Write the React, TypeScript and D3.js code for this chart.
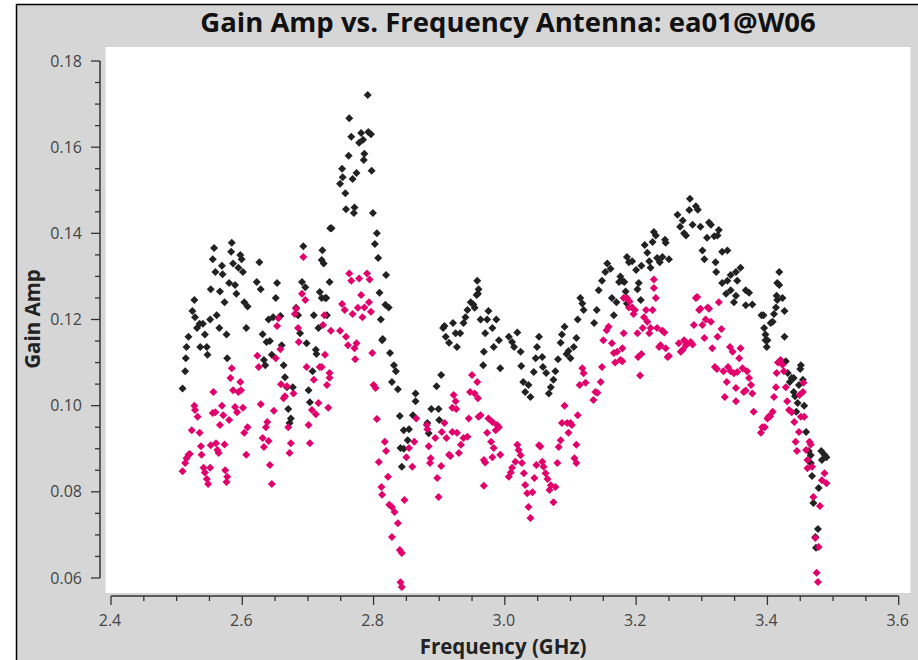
import React from 'react';
import * as d3 from 'd3';

const TITLE = 'Gain Amp vs. Frequency Antenna: ea01@W06';
const X_LABEL = 'Frequency (GHz)';
const Y_LABEL = 'Gain Amp';

const xTickValues = [2.4, 2.6, 2.8, 3.0, 3.2, 3.4, 3.6];
const xTickLabels = ['2.4', '2.6', '2.8', '3.0', '3.2', '3.4', '3.6'];
const yTickValues = [0.06, 0.08, 0.1, 0.12, 0.14, 0.16, 0.18];
const yTickLabels = ['0.06', '0.08', '0.10', '0.12', '0.14', '0.16', '0.18'];

// [frequency GHz, gain amplitude] — correlation 1 (black)
const blackSeries: [number, number][] = [
  [2.509, 0.104], [2.513, 0.108], [2.514, 0.111], [2.515, 0.1136], [2.518, 0.116], [2.524, 0.122],
  [2.527, 0.1245], [2.528, 0.1205], [2.531, 0.118], [2.535, 0.119], [2.536, 0.1136], [2.540, 0.119],
  [2.543, 0.1165], [2.546, 0.1136], [2.547, 0.1118], [2.551, 0.120], [2.552, 0.127], [2.555, 0.134],
  [2.557, 0.1366], [2.559, 0.131], [2.561, 0.121], [2.565, 0.118], [2.566, 0.1265], [2.569, 0.1325],
  [2.570, 0.1305], [2.573, 0.124], [2.576, 0.1165], [2.577, 0.111], [2.580, 0.1285], [2.583, 0.1357],
  [2.584, 0.1378], [2.586, 0.133], [2.589, 0.128], [2.591, 0.126], [2.594, 0.132], [2.597, 0.135],
  [2.599, 0.134], [2.601, 0.131], [2.603, 0.124], [2.606, 0.118], [2.608, 0.123], [2.622, 0.1287],
  [2.626, 0.1333], [2.628, 0.127], [2.631, 0.1166], [2.633, 0.1106], [2.635, 0.1094], [2.637, 0.1148],
  [2.640, 0.120], [2.642, 0.115], [2.645, 0.1118], [2.647, 0.1205], [2.651, 0.125], [2.653, 0.1285],
  [2.658, 0.1208], [2.660, 0.114], [2.663, 0.1094], [2.665, 0.1066], [2.668, 0.1043], [2.670, 0.0992],
  [2.672, 0.096], [2.674, 0.097], [2.677, 0.1043], [2.682, 0.1227], [2.685, 0.121], [2.688, 0.1168],
  [2.691, 0.1287], [2.693, 0.137], [2.696, 0.1275], [2.698, 0.1145], [2.701, 0.1036], [2.703, 0.1008],
  [2.707, 0.108], [2.709, 0.121], [2.712, 0.113], [2.713, 0.112], [2.716, 0.118], [2.718, 0.1264],
  [2.721, 0.1338], [2.722, 0.1361], [2.724, 0.133], [2.721, 0.125], [2.726, 0.125], [2.728, 0.125],
  [2.729, 0.121], [2.733, 0.1287], [2.734, 0.1412], [2.736, 0.1412], [2.749, 0.1515], [2.752, 0.155],
  [2.753, 0.153], [2.757, 0.1493], [2.758, 0.1456], [2.762, 0.158], [2.763, 0.1667], [2.766, 0.1624],
  [2.768, 0.1526], [2.770, 0.1447], [2.771, 0.146], [2.774, 0.154], [2.778, 0.161], [2.781, 0.1633],
  [2.784, 0.1617], [2.785, 0.157], [2.786, 0.1585], [2.791, 0.1721], [2.792, 0.1635], [2.796, 0.163],
  [2.797, 0.1545], [2.799, 0.1447], [2.802, 0.1375], [2.805, 0.140], [2.807, 0.1343], [2.809, 0.1262],
  [2.811, 0.120], [2.813, 0.1152], [2.814, 0.1155], [2.818, 0.1234], [2.819, 0.1303], [2.823, 0.1228],
  [2.825, 0.1122], [2.828, 0.1055], [2.831, 0.1094], [2.834, 0.108], [2.837, 0.1038], [2.840, 0.0976],
  [2.841, 0.0902], [2.843, 0.0858], [2.846, 0.0943], [2.846, 0.090], [2.852, 0.092], [2.854, 0.0945],
  [2.860, 0.0978], [2.864, 0.1028], [2.864, 0.101], [2.882, 0.096], [2.884, 0.0936], [2.888, 0.0992],
  [2.896, 0.1045], [2.899, 0.0992], [2.900, 0.0967], [2.903, 0.1071], [2.906, 0.118], [2.908, 0.1185],
  [2.910, 0.116], [2.915, 0.1146], [2.921, 0.1192], [2.925, 0.1168], [2.927, 0.1136], [2.932, 0.1168],
  [2.937, 0.1192], [2.940, 0.1205], [2.943, 0.1222], [2.948, 0.124], [2.952, 0.1235], [2.954, 0.1227],
  [2.957, 0.1257], [2.958, 0.129], [2.959, 0.126], [2.960, 0.127], [2.963, 0.120], [2.967, 0.1094],
  [2.968, 0.1125], [2.970, 0.1168], [2.973, 0.120], [2.975, 0.122], [2.981, 0.118], [2.983, 0.1136],
  [2.987, 0.120], [2.991, 0.1152], [2.993, 0.1087], [3.006, 0.116], [3.011, 0.1148], [3.014, 0.1136],
  [3.019, 0.117], [3.024, 0.1125], [3.025, 0.1092], [3.028, 0.1055], [3.031, 0.1032], [3.036, 0.1048],
  [3.039, 0.102], [3.044, 0.1078], [3.047, 0.111], [3.049, 0.1136], [3.052, 0.116], [3.057, 0.1113],
  [3.058, 0.109], [3.063, 0.1076], [3.067, 0.1028], [3.070, 0.1043], [3.074, 0.106], [3.077, 0.108],
  [3.081, 0.1108], [3.085, 0.1146], [3.087, 0.1165], [3.091, 0.1183], [3.094, 0.112], [3.097, 0.1127],
  [3.100, 0.111], [3.105, 0.1136], [3.109, 0.1157], [3.111, 0.120], [3.115, 0.125], [3.118, 0.1237],
  [3.120, 0.1222], [3.136, 0.1192], [3.140, 0.1222], [3.143, 0.1268], [3.148, 0.129], [3.153, 0.131],
  [3.156, 0.133], [3.161, 0.1318], [3.163, 0.125], [3.166, 0.121], [3.170, 0.124], [3.174, 0.1287],
  [3.176, 0.130], [3.179, 0.129], [3.182, 0.1287], [3.184, 0.1265], [3.186, 0.1345], [3.186, 0.1237],
  [3.189, 0.1333], [3.194, 0.1335], [3.200, 0.1315], [3.202, 0.127], [3.204, 0.1285], [3.207, 0.1245],
  [3.208, 0.1325], [3.213, 0.1373], [3.217, 0.1355], [3.220, 0.1335], [3.222, 0.132], [3.225, 0.138],
  [3.227, 0.1403], [3.230, 0.1395], [3.232, 0.1343], [3.236, 0.1333], [3.240, 0.1345], [3.244, 0.1385],
  [3.245, 0.1378], [3.250, 0.134], [3.263, 0.1443], [3.267, 0.1415], [3.271, 0.143], [3.273, 0.140],
  [3.276, 0.1395], [3.281, 0.1454], [3.282, 0.148], [3.286, 0.142], [3.291, 0.1463], [3.294, 0.1455],
  [3.298, 0.1415], [3.301, 0.136], [3.304, 0.134], [3.308, 0.139], [3.311, 0.1425], [3.314, 0.142],
  [3.319, 0.1393], [3.321, 0.1333], [3.322, 0.131], [3.324, 0.1395], [3.326, 0.1408], [3.331, 0.1357],
  [3.331, 0.1285], [3.337, 0.126], [3.339, 0.136], [3.339, 0.129], [3.344, 0.1303], [3.344, 0.1268],
  [3.349, 0.124], [3.352, 0.131], [3.352, 0.1255], [3.354, 0.129], [3.359, 0.132], [3.367, 0.1268],
  [3.367, 0.1233], [3.372, 0.1262], [3.377, 0.1235], [3.391, 0.121], [3.394, 0.121], [3.395, 0.118],
  [3.397, 0.1165], [3.397, 0.1152], [3.399, 0.1136], [3.400, 0.1152], [3.405, 0.1192], [3.408, 0.1195],
  [3.410, 0.1213], [3.413, 0.1228], [3.414, 0.1255], [3.415, 0.1245], [3.415, 0.1285], [3.418, 0.131],
  [3.418, 0.128], [3.423, 0.125], [3.426, 0.122], [3.426, 0.116], [3.428, 0.1103], [3.431, 0.1076],
  [3.434, 0.1055], [3.437, 0.1064], [3.440, 0.1064], [3.440, 0.1032], [3.442, 0.1022], [3.444, 0.0986],
  [3.446, 0.1006], [3.448, 0.1048], [3.450, 0.1085], [3.451, 0.1094], [3.454, 0.106], [3.456, 0.100],
  [3.459, 0.0939], [3.463, 0.0895], [3.466, 0.0885], [3.466, 0.0867], [3.468, 0.0837], [3.470, 0.0774],
  [3.473, 0.0695], [3.474, 0.067], [3.477, 0.0714], [3.478, 0.0809], [3.482, 0.0895], [3.483, 0.0874],
  [3.487, 0.0886], [3.490, 0.088],
];

// [frequency GHz, gain amplitude] — correlation 2 (pink)
const pinkSeries: [number, number][] = [
  [2.509, 0.0848], [2.513, 0.0867], [2.515, 0.0878], [2.518, 0.0886], [2.520, 0.0888], [2.523, 0.0943],
  [2.527, 0.100], [2.528, 0.099], [2.532, 0.0974], [2.535, 0.0937], [2.537, 0.0906], [2.538, 0.0886],
  [2.541, 0.0856], [2.543, 0.0845], [2.546, 0.083], [2.548, 0.0818], [2.551, 0.0856], [2.552, 0.0908],
  [2.555, 0.0983], [2.556, 0.1032], [2.559, 0.0985], [2.560, 0.0913], [2.562, 0.0897], [2.564, 0.089],
  [2.566, 0.0955], [2.569, 0.100], [2.571, 0.0978], [2.573, 0.091], [2.574, 0.085], [2.576, 0.0823],
  [2.577, 0.0835], [2.580, 0.0967], [2.582, 0.1064], [2.584, 0.1087], [2.586, 0.1036], [2.589, 0.0997],
  [2.592, 0.0985], [2.594, 0.1032], [2.597, 0.1055], [2.598, 0.1036], [2.601, 0.0995], [2.603, 0.0937],
  [2.606, 0.0886], [2.608, 0.095], [2.623, 0.1116], [2.625, 0.109], [2.628, 0.1003], [2.631, 0.0925],
  [2.633, 0.0904], [2.636, 0.095], [2.638, 0.0962], [2.640, 0.0918], [2.642, 0.0862], [2.645, 0.0818],
  [2.648, 0.0988], [2.651, 0.111], [2.653, 0.1185], [2.655, 0.1203], [2.658, 0.1131], [2.659, 0.105],
  [2.663, 0.1017], [2.665, 0.1022], [2.668, 0.1045], [2.670, 0.095], [2.672, 0.089], [2.674, 0.0913],
  [2.678, 0.1028], [2.680, 0.1213], [2.682, 0.1225], [2.685, 0.118], [2.686, 0.1148], [2.691, 0.126],
  [2.693, 0.1345], [2.696, 0.1245], [2.698, 0.109], [2.701, 0.0955], [2.703, 0.0913], [2.706, 0.099],
  [2.709, 0.106], [2.712, 0.098], [2.716, 0.1006], [2.718, 0.109], [2.721, 0.109], [2.723, 0.1187],
  [2.725, 0.121], [2.726, 0.1118], [2.729, 0.1048], [2.731, 0.0995], [2.733, 0.1065], [2.733, 0.1076],
  [2.735, 0.1174], [2.749, 0.1174], [2.752, 0.1236], [2.756, 0.1222], [2.758, 0.116], [2.761, 0.114],
  [2.763, 0.1307], [2.766, 0.129], [2.768, 0.1213], [2.771, 0.1133], [2.772, 0.1108], [2.774, 0.1145],
  [2.776, 0.1227], [2.778, 0.1295], [2.781, 0.1257], [2.783, 0.1205], [2.786, 0.1228], [2.790, 0.1307],
  [2.793, 0.124], [2.794, 0.1293], [2.796, 0.1218], [2.798, 0.1122], [2.800, 0.1048], [2.803, 0.1041],
  [2.805, 0.0969], [2.808, 0.0869], [2.812, 0.0811], [2.813, 0.0793], [2.817, 0.0916], [2.819, 0.0895],
  [2.822, 0.0835], [2.824, 0.077], [2.828, 0.0765], [2.828, 0.0695], [2.832, 0.0753], [2.837, 0.0727],
  [2.840, 0.0665], [2.841, 0.059], [2.843, 0.0658], [2.843, 0.0579], [2.847, 0.0781], [2.850, 0.088],
  [2.854, 0.0902], [2.859, 0.0858], [2.862, 0.0916], [2.865, 0.097], [2.881, 0.0955], [2.882, 0.0945],
  [2.884, 0.0906], [2.886, 0.0867], [2.887, 0.0878], [2.894, 0.0925], [2.897, 0.0832], [2.899, 0.0788],
  [2.903, 0.086], [2.904, 0.0939], [2.908, 0.096], [2.911, 0.0925], [2.915, 0.0886], [2.917, 0.0883],
  [2.920, 0.0939], [2.920, 0.0995], [2.922, 0.1025], [2.925, 0.101], [2.926, 0.0992], [2.927, 0.0937],
  [2.930, 0.089], [2.933, 0.0909], [2.937, 0.0925], [2.943, 0.0928], [2.945, 0.097], [2.947, 0.1032],
  [2.950, 0.1071], [2.954, 0.1028], [2.958, 0.1055], [2.959, 0.1017], [2.960, 0.0974], [2.963, 0.0978],
  [2.968, 0.0874], [2.968, 0.0814], [2.970, 0.0868], [2.973, 0.0937], [2.975, 0.097], [2.979, 0.0916],
  [2.981, 0.0962], [2.981, 0.088], [2.983, 0.0902], [2.986, 0.0943], [2.988, 0.0955], [2.991, 0.095],
  [2.993, 0.0886], [3.006, 0.0835], [3.009, 0.0845], [3.011, 0.0856], [3.016, 0.087], [3.019, 0.0909],
  [3.021, 0.0897], [3.024, 0.0885], [3.026, 0.0867], [3.029, 0.0843], [3.031, 0.0816], [3.034, 0.0797],
  [3.036, 0.0765], [3.039, 0.0739], [3.042, 0.0799], [3.045, 0.0832], [3.048, 0.0862], [3.052, 0.0908],
  [3.054, 0.0905], [3.057, 0.087], [3.059, 0.0858], [3.062, 0.0843], [3.065, 0.083], [3.068, 0.0804],
  [3.070, 0.0815], [3.074, 0.0776], [3.077, 0.0811], [3.080, 0.0867], [3.082, 0.0904], [3.085, 0.092],
  [3.087, 0.096], [3.091, 0.100], [3.095, 0.096], [3.097, 0.0937], [3.100, 0.096], [3.102, 0.0955],
  [3.106, 0.0878], [3.109, 0.0909], [3.109, 0.0867], [3.111, 0.0978], [3.114, 0.1048], [3.118, 0.1087],
  [3.120, 0.1075], [3.123, 0.1053], [3.135, 0.1013], [3.138, 0.1032], [3.141, 0.103], [3.146, 0.1055],
  [3.148, 0.109], [3.150, 0.1152], [3.155, 0.1175], [3.158, 0.1183], [3.163, 0.1145], [3.166, 0.1122],
  [3.168, 0.110], [3.171, 0.1125], [3.176, 0.1106], [3.179, 0.1103], [3.179, 0.1133], [3.181, 0.1168],
  [3.181, 0.125], [3.186, 0.125], [3.189, 0.1228], [3.190, 0.1242], [3.194, 0.1228], [3.196, 0.1213],
  [3.198, 0.1222], [3.202, 0.1168], [3.203, 0.1113], [3.206, 0.107], [3.208, 0.112], [3.210, 0.118],
  [3.212, 0.1205], [3.215, 0.1222], [3.217, 0.1195], [3.220, 0.1168], [3.222, 0.118], [3.225, 0.1222],
  [3.227, 0.1293], [3.227, 0.1273], [3.230, 0.125], [3.232, 0.118], [3.235, 0.1136], [3.237, 0.114],
  [3.240, 0.1174], [3.243, 0.117], [3.245, 0.1133], [3.248, 0.1113], [3.250, 0.1115], [3.265, 0.1145],
  [3.268, 0.1125], [3.271, 0.113], [3.273, 0.1152], [3.276, 0.114], [3.278, 0.1145], [3.283, 0.1148],
  [3.286, 0.1142], [3.288, 0.1187], [3.291, 0.125], [3.293, 0.1252], [3.296, 0.1222], [3.298, 0.1225],
  [3.301, 0.1187], [3.304, 0.1157], [3.306, 0.120], [3.309, 0.1228], [3.311, 0.1225], [3.314, 0.1195],
  [3.316, 0.1133], [3.320, 0.109], [3.323, 0.1085], [3.324, 0.116], [3.326, 0.124], [3.330, 0.1178],
  [3.333, 0.108], [3.335, 0.102], [3.338, 0.1055], [3.340, 0.109], [3.343, 0.1136], [3.344, 0.108],
  [3.347, 0.1125], [3.349, 0.1075], [3.352, 0.1041], [3.352, 0.101], [3.354, 0.1078], [3.357, 0.111],
  [3.359, 0.1133], [3.362, 0.1087], [3.364, 0.1032], [3.367, 0.1035], [3.369, 0.108], [3.372, 0.1064],
  [3.375, 0.1048], [3.377, 0.1028], [3.379, 0.0986], [3.390, 0.0937], [3.392, 0.095], [3.396, 0.095],
  [3.400, 0.097], [3.402, 0.0975], [3.404, 0.0975], [3.408, 0.0986], [3.410, 0.102], [3.413, 0.1043],
  [3.414, 0.1076], [3.416, 0.110], [3.420, 0.1106], [3.423, 0.1095], [3.425, 0.108], [3.428, 0.1043],
  [3.430, 0.101], [3.433, 0.099], [3.437, 0.0985], [3.441, 0.0962], [3.443, 0.0916], [3.445, 0.0895],
  [3.448, 0.0939], [3.449, 0.1025], [3.451, 0.0974], [3.454, 0.1032], [3.455, 0.1053], [3.456, 0.0974],
  [3.459, 0.0897], [3.461, 0.0874], [3.461, 0.0855], [3.464, 0.0916], [3.466, 0.091], [3.468, 0.0858],
  [3.470, 0.0788], [3.473, 0.0693], [3.475, 0.0612], [3.477, 0.0591], [3.478, 0.0672], [3.480, 0.0767],
  [3.483, 0.0827], [3.487, 0.0843], [3.490, 0.082],
];

const COLOR_A = '#222222';
const COLOR_B = '#e2006c';

export default function App() {
  const W = 918;
  const H = 660;
  const x = d3.scaleLinear().domain([2.4, 3.6]).range([111, 898.7]);
  const y = d3.scaleLinear().domain([0.06, 0.18]).range([578, 61]);
  const xMinor = d3.range(0, 25).map((i) => 2.4 + i * 0.05);
  const yMinor = d3.range(0, 25).map((i) => 0.06 + i * 0.005);
  const axisX = 100;
  const axisY = 596;
  const diamond = 'M0,-4L4,0L0,4L-4,0Z';
  const axisColor = '#333';
  const font = "'Open Sans', 'Noto Sans', sans-serif";

  return (
    <svg width={W} height={H} style={{ position: 'absolute', left: 0, top: 0 }} fontFamily={font}>
      <rect x={0} y={0} width={W} height={H} fill="#ffffff" />
      <rect x={16.5} y={4.5} width={W + 10} height={H + 10} fill="#d6d6d6" stroke="#000" strokeWidth={1.5} />
      <rect x={105.5} y={47} width={805} height={546} fill="#ffffff" />

      <text x={508} y={32} textAnchor="middle" fontSize={27.5} fontWeight={700} fill="#111">{TITLE}</text>

      {/* Y axis */}
      <line x1={axisX} x2={axisX} y1={y(0.18)} y2={y(0.06)} stroke={axisColor} strokeWidth={1.5} />
      {yMinor.map((v, i) => (
        <line key={'ym' + i} x1={axisX - (i % 4 === 0 ? 9 : 5)} x2={axisX} y1={y(v)} y2={y(v)} stroke={axisColor} strokeWidth={1.3} />
      ))}
      {yTickValues.map((v, i) => (
        <text key={'yt' + i} x={82} y={y(v) + 5.5} textAnchor="end" fontSize={16} fill="#444">{yTickLabels[i]}</text>
      ))}

      {/* X axis */}
      <line x1={x(2.4)} x2={x(3.6)} y1={axisY} y2={axisY} stroke={axisColor} strokeWidth={1.5} />
      {xMinor.map((v, i) => (
        <line key={'xm' + i} x1={x(v)} x2={x(v)} y1={axisY} y2={axisY + (i % 4 === 0 ? 9 : 5)} stroke={axisColor} strokeWidth={1.3} />
      ))}
      {xTickValues.map((v, i) => (
        <text key={'xt' + i} x={x(v) - 1} y={626} textAnchor="middle" fontSize={16} fill="#444">{xTickLabels[i]}</text>
      ))}

      <text x={503} y={654} textAnchor="middle" fontSize={20.5} fontWeight={700} fill="#222">{X_LABEL}</text>
      <text transform={`translate(40,319) rotate(-90)`} textAnchor="middle" fontSize={20.5} fontWeight={700} fill="#222">{Y_LABEL}</text>

      {blackSeries.map((d, i) => (
        <path key={'a' + i} d={diamond} transform={`translate(${x(d[0])},${y(d[1])})`} fill={COLOR_A} />
      ))}
      {pinkSeries.map((d, i) => (
        <path key={'b' + i} d={diamond} transform={`translate(${x(d[0])},${y(d[1])})`} fill={COLOR_B} />
      ))}
    </svg>
  );
}
